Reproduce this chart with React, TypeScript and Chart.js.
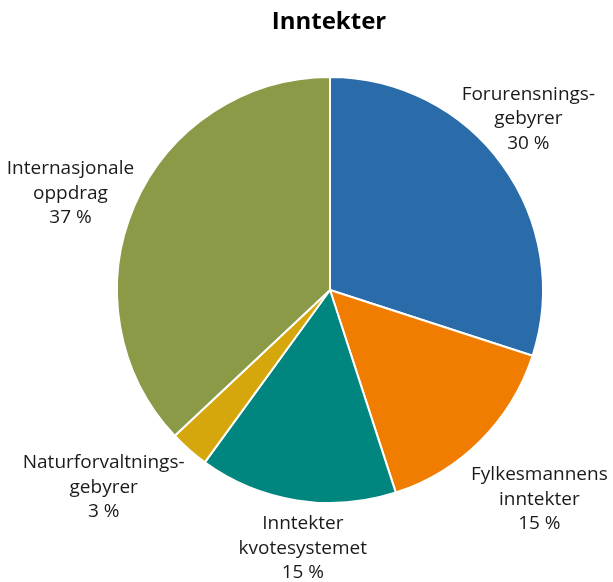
import React, { useEffect, useRef } from "react";
import { Chart, registerables } from "chart.js";

Chart.register(...registerables);

const titleText = "Inntekter";
const categories = [
  ["Forurensnings-", "gebyrer"],
  ["Fylkesmannens", "inntekter"],
  ["Inntekter", "kvotesystemet"],
  ["Naturforvaltnings-", "gebyrer"],
  ["Internasjonale", "oppdrag"],
];
const values = [30, 15, 15, 3, 37];
const colors = ["#2A6CA9", "#F07C00", "#00857F", "#D6A70C", "#8A9A46"];

// label placement (style): distance as multiple of radius, angle tweak in degrees
const labelDist = [1.23, 1.39, 1.22, 1.41, 1.3];
const labelAngleTweak = [-4.8, 0, -3, 7.5, -3];

const FONT = "'Open Sans', sans-serif";

const labelPlugin = {
  id: "outerLabels",
  afterDraw(chart: any) {
    const ctx = chart.ctx;
    const meta = chart.getDatasetMeta(0);
    const total = values.reduce((a, b) => a + b, 0);
    ctx.save();
    // title
    ctx.font = `bold 24px ${FONT}`;
    ctx.fillStyle = "#000";
    ctx.textAlign = "center";
    ctx.textBaseline = "middle";
    ctx.fillText(titleText, 329, 22);

    ctx.font = `19px ${FONT}`;
    ctx.fillStyle = "#1a1a1a";
    meta.data.forEach((arc: any, i: number) => {
      const { x, y, startAngle, endAngle, outerRadius } = arc.getProps(
        ["x", "y", "startAngle", "endAngle", "outerRadius"],
        true
      );
      const mid = (startAngle + endAngle) / 2 + (labelAngleTweak[i] * Math.PI) / 180;
      const d = outerRadius * labelDist[i];
      const cx = x + Math.cos(mid) * d;
      const cy = y + Math.sin(mid) * d;
      const pct = Math.round((values[i] / total) * 100) + " %";
      const lines = [...categories[i], pct];
      const lh = 24.5;
      lines.forEach((t, k) => {
        ctx.fillText(t, cx, cy + (k - (lines.length - 1) / 2) * lh);
      });
    });
    ctx.restore();
  },
};

export default function App() {
  const ref = useRef<HTMLCanvasElement>(null);
  useEffect(() => {
    const chart = new Chart(ref.current as HTMLCanvasElement, {
      type: "pie",
      data: {
        labels: categories.map((c) => c.join(" ")),
        datasets: [
          {
            data: values,
            backgroundColor: colors,
            borderColor: "#ffffff",
            borderWidth: 2,
          },
        ],
      },
      options: {
        responsive: false,
        animation: false,
        radius: 213,
        layout: { padding: { left: 60, right: 13, top: 50, bottom: 52 } },
        plugins: {
          legend: { display: false },
          title: { display: false },
          tooltip: { enabled: false },
        },
      },
      plugins: [labelPlugin],
    });
    return () => chart.destroy();
  }, []);
  return (
    <div style={{ position: "fixed", left: 0, top: 0, width: 613, height: 582, background: "#fff" }}>
      <canvas ref={ref} width={613} height={582} />
    </div>
  );
}
